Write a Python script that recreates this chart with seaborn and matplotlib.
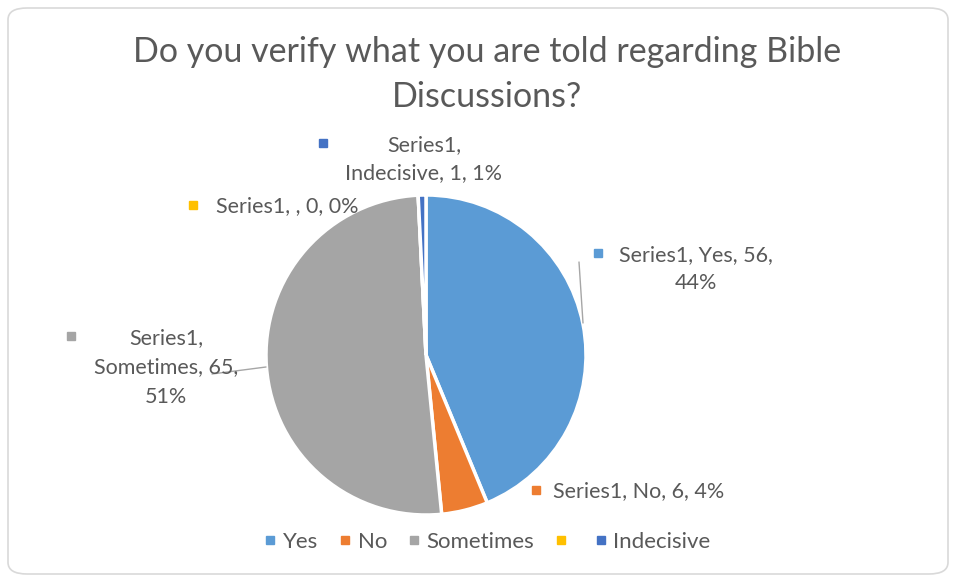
import matplotlib
matplotlib.use("Agg")
import matplotlib.pyplot as plt
from matplotlib.patches import FancyBboxPatch
from matplotlib.lines import Line2D
import seaborn as sns

# data
categories = ["Yes", "No", "Sometimes", "", "Indecisive"]
counts = [56, 6, 65, 0, 1]
percent_labels = [44, 4, 51, 0, 1]
colors = ["#5B9BD5", "#ED7D31", "#A5A5A5", "#FFC000", "#4472C4"]

sns.set_theme(style="white")
plt.rcParams["font.family"] = ["Lato", "DejaVu Sans"]
TXT = "#595959"

W, H = 956, 581
fig = plt.figure(figsize=(W / 100, H / 100), dpi=100)
ax = fig.add_axes([0, 0, 1, 1])


def Y(py):
    return H - py


# rounded chart border
fig.patches.append(FancyBboxPatch((8 / W, 7 / H), 940 / W, 566 / H,
                                  boxstyle="round,pad=0,rounding_size=0.02",
                                  transform=fig.transFigure, fill=False,
                                  edgecolor="#D9D9D9", linewidth=1.2))

ax.pie(counts, colors=colors, startangle=90, counterclock=False,
       center=(426, Y(355)), radius=160,
       wedgeprops=dict(edgecolor="white", linewidth=2.5))
ax.set_xlim(0, W)
ax.set_ylim(0, H)
ax.set_aspect("equal")
ax.axis("off")

ax.text(487, Y(52), "Do you verify what you are told regarding Bible",
        ha="center", va="center", fontsize=24.5, color=TXT)
ax.text(487, Y(97), "Discussions?", ha="center", va="center", fontsize=24.5, color=TXT)

lab = [f"Series1, {c}, {v}, {p}%" for c, v, p in zip(categories, counts, percent_labels)]
fs = 15.5


def key(x, y, col):
    ax.plot([x], [Y(y)], marker="s", markersize=6, color=col, linestyle="none")


# Yes
key(598, 253, colors[0])
ax.text(696, Y(255), f"Series1, {categories[0]}, {counts[0]},", ha="center", va="center", fontsize=fs, color=TXT)
ax.text(696, Y(283), f"{percent_labels[0]}%", ha="center", va="center", fontsize=fs, color=TXT)
ax.plot([579, 583], [Y(262), Y(323)], color="#A6A6A6", linewidth=1)

# No
key(536, 490, colors[1])
ax.text(553, Y(491), lab[1], ha="left", va="center", fontsize=fs, color=TXT)

# Sometimes
key(71, 336, colors[2])
ax.text(166, Y(338), "Series1,", ha="center", va="center", fontsize=fs, color=TXT)
ax.text(166, Y(367), f"{categories[2]}, {counts[2]},", ha="center", va="center", fontsize=fs, color=TXT)
ax.text(166, Y(397), f"{percent_labels[2]}%", ha="center", va="center", fontsize=fs, color=TXT)
ax.plot([212, 266], [Y(374), Y(367)], color="#A6A6A6", linewidth=1)

# blank
key(193, 205, colors[3])
ax.text(216, Y(206), lab[3], ha="left", va="center", fontsize=fs, color=TXT)

# Indecisive
key(323, 143, colors[4])
ax.text(424, Y(145), "Series1,", ha="center", va="center", fontsize=fs, color=TXT)
ax.text(424, Y(173), f"{categories[4]}, {counts[4]}, {percent_labels[4]}%", ha="center", va="center", fontsize=fs, color=TXT)

handles = [Line2D([], [], marker="s", markersize=6, color=c, linestyle="none") for c in colors]
leg = ax.legend(handles, categories, ncol=5, loc="center", bbox_to_anchor=(487 / W, 1 - 542 / H),
                frameon=False, fontsize=16, handlelength=0.6, handletextpad=0.28,
                columnspacing=0.9, labelcolor=TXT)

fig.savefig("out.png", dpi=100, facecolor="white")
